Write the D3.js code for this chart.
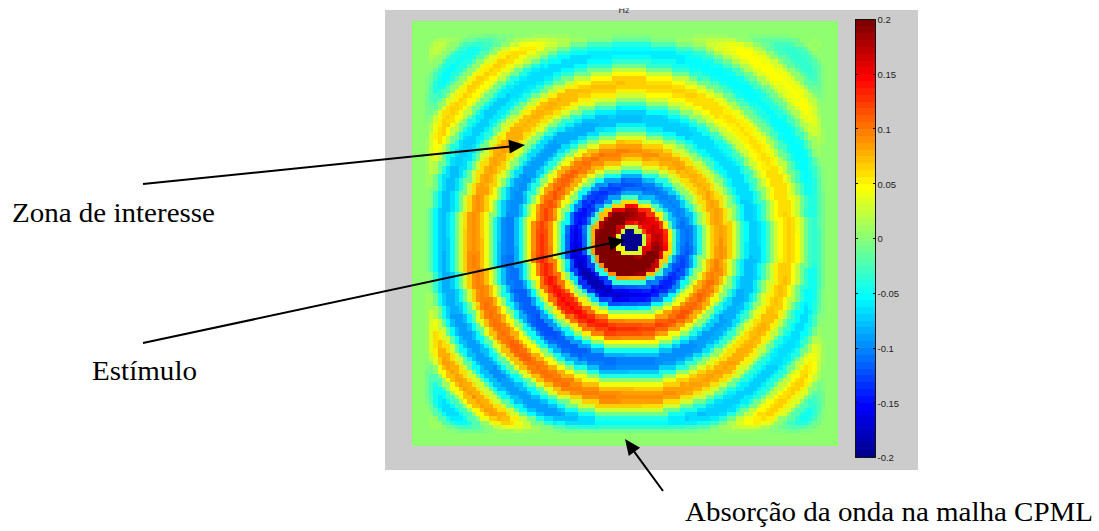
<!DOCTYPE html>
<html>
<head>
<meta charset="utf-8">
<script src="https://cdn.jsdelivr.net/npm/d3@7"></script>
<style>
  body { margin: 0; background: #fff; }
  svg { display: block; }
</style>
</head>
<body>
<svg id="chart"></svg>
<script>
// ---- data ----
const nCells = 100;                  // grid is 100 x 100 cells
const sourceCell = [51.4, 51.8];     // centre of the rings, in cell units

// field value against distance from the source (index = radius in cells), mean direction
const radialProfile = [
  -0.3, -0.3, -0.28, 0.03, 0.17, 0.21, 0.22, 0.21, 0.17, 0.07,
  -0.03, -0.1, -0.13, -0.14, -0.13, -0.1, -0.05, 0.0, 0.04, 0.08,
  0.1, 0.11, 0.1, 0.08, 0.04, 0.0, -0.04, -0.07, -0.09, -0.09,
  -0.085, -0.065, -0.035, 0.0, 0.035, 0.06, 0.075, 0.08, 0.075, 0.055,
  0.025, -0.01, -0.04, -0.06, -0.07, -0.07, -0.06, -0.04, -0.01, 0.02,
  0.045, 0.06, 0.065, 0.055, 0.035, 0.005, -0.02, -0.04, -0.05, -0.05,
  -0.04, -0.02, 0.0, 0.015, 0.03, 0.035, 0.035, 0.03, 0.02, 0.01,
  0.0, 0.0, 0.0, 0.0, 0.0
];

// amplitude by direction from the source: E, SE, S, SW, W, NW, N, NE
const directionGain = [0.8, 1.0, 1.15, 1.35, 1.15, 1.0, 0.85, 0.72];

// CPML absorption: factor by distance (cells) from the outer edge
const edgeDamping = [0, 0, 0, 0.15, 0.45, 0.75, 0.9];

const colorbarTicks = [0.2, 0.15, 0.1, 0.05, 0, -0.05, -0.1, -0.15, -0.2];
const colorLimits = [-0.2, 0.2];

// ---- MATLAB jet(64) ----
function jet(m) {
  const n = Math.ceil(m / 4);
  const u = [];
  for (let j = 1; j <= n; j++) u.push(j / n);
  for (let j = 1; j < n; j++) u.push(1);
  for (let j = n; j >= 1; j--) u.push(j / n);
  const off = Math.ceil(n / 2) - (m % 4 === 1 ? 1 : 0);
  const c = d3.range(m).map(() => [0, 0, 0]);
  u.forEach((val, j) => {
    const g = off + j, r = g + n, b = g - n;
    if (g < m) c[g][1] = val;
    if (r < m) c[r][0] = val;
    if (b >= 0) c[b][2] = val;
  });
  return c.map(d => d3.rgb(d[0] * 255, d[1] * 255, d[2] * 255).formatHex());
}
const jetColors = jet(64);
const color = d3.scaleQuantize().domain(colorLimits).range(jetColors);

// ---- build cells ----
function gainAt(angle) {
  let k = angle / (Math.PI / 4);
  if (k < 0) k += 8;
  const k0 = Math.floor(k) % 8, k1 = (k0 + 1) % 8, t = k - Math.floor(k);
  return directionGain[k0] * (1 - t) + directionGain[k1] * t;
}
function dampAt(i) {
  const d = Math.min(i, nCells - 1 - i);
  return d < edgeDamping.length ? edgeDamping[d] : 1;
}
const cells = [];
for (let j = 0; j < nCells; j++) {
  for (let i = 0; i < nCells; i++) {
    const dx = i + 0.5 - sourceCell[0], dy = j + 0.5 - sourceCell[1];
    const r = Math.min(Math.round(Math.hypot(dx, dy)), radialProfile.length - 1);
    const v = radialProfile[r] * gainAt(Math.atan2(dy, dx)) * dampAt(i) * dampAt(j);
    cells.push({i, j, v});
  }
}

// ---- drawing ----
const width = 1099, height = 531;
const svg = d3.select('#chart').attr('width', width).attr('height', height);

// figure panel
svg.append('rect')
  .attr('x', 385).attr('y', 10).attr('width', 533).attr('height', 460)
  .attr('fill', '#cccccc');

// title (cut off at the top of the figure)
svg.append('defs').append('clipPath').attr('id', 'titleClip')
  .append('rect').attr('x', 600).attr('y', 8.5).attr('width', 50).attr('height', 10);
svg.append('text')
  .attr('x', 624).attr('y', 12.5)
  .attr('text-anchor', 'middle')
  .attr('clip-path', 'url(#titleClip)')
  .style('font-family', 'Liberation Sans, Arial, sans-serif')
  .style('font-size', '9px')
  .style('fill', '#222')
  .text('Hz');

const xScale = d3.scaleLinear().domain([0, nCells]).range([412, 838]);
const yScale = d3.scaleLinear().domain([0, nCells]).range([21, 446]);

svg.append('g')
  .attr('shape-rendering', 'crispEdges')
  .selectAll('rect')
  .data(cells)
  .join('rect')
    .attr('x', d => xScale(d.i))
    .attr('y', d => yScale(d.j))
    .attr('width', d => xScale(d.i + 1) - xScale(d.i) + 0.4)
    .attr('height', d => yScale(d.j + 1) - yScale(d.j) + 0.4)
    .attr('fill', d => color(d.v));

// colorbar
const cbX = 855, cbW = 21;
const cbScale = d3.scaleLinear().domain(colorLimits).range([457, 19]);
const step = (colorLimits[1] - colorLimits[0]) / jetColors.length;
const cb = svg.append('g');
cb.append('g')
  .attr('shape-rendering', 'crispEdges')
  .selectAll('rect')
  .data(jetColors)
  .join('rect')
    .attr('x', cbX)
    .attr('y', (d, k) => cbScale(colorLimits[0] + (k + 1) * step))
    .attr('width', cbW)
    .attr('height', (d, k) => cbScale(colorLimits[0] + k * step) - cbScale(colorLimits[0] + (k + 1) * step) + 0.5)
    .attr('fill', d => d);
cb.append('rect')
  .attr('x', cbX + 0.5).attr('y', cbScale(0.2) + 0.5)
  .attr('width', cbW - 1).attr('height', cbScale(-0.2) - cbScale(0.2) - 1)
  .attr('fill', 'none').attr('stroke', '#111').attr('stroke-width', 1);
cb.selectAll('line.tl')
  .data(colorbarTicks)
  .join('line')
    .attr('x1', cbX).attr('x2', cbX + 3)
    .attr('y1', d => Math.round(cbScale(d)) + 0.5).attr('y2', d => Math.round(cbScale(d)) + 0.5)
    .attr('stroke', '#111');
cb.selectAll('line.tr')
  .data(colorbarTicks)
  .join('line')
    .attr('x1', cbX + cbW - 3).attr('x2', cbX + cbW)
    .attr('y1', d => Math.round(cbScale(d)) + 0.5).attr('y2', d => Math.round(cbScale(d)) + 0.5)
    .attr('stroke', '#111');

const cbAxis = d3.axisRight(cbScale)
  .tickValues(colorbarTicks)
  .tickSize(0)
  .tickPadding(1.5)
  .tickFormat(d => String(d));
cb.append('g')
  .attr('transform', `translate(${cbX + cbW},0)`)
  .call(cbAxis)
  .call(g => g.select('.domain').remove())
  .call(g => g.selectAll('text')
    .attr('dy', '0.4em')
    .style('font-family', 'Liberation Sans, Arial, sans-serif')
    .style('font-size', '9.5px')
    .style('fill', '#222'));

// annotations
function arrow(x1, y1, x2, y2) {
  const a = Math.atan2(y2 - y1, x2 - x1);
  const len = 16, half = 7;
  const bx = x2 - len * Math.cos(a), by = y2 - len * Math.sin(a);
  svg.append('line')
    .attr('x1', x1).attr('y1', y1)
    .attr('x2', bx + 2 * Math.cos(a)).attr('y2', by + 2 * Math.sin(a))
    .attr('stroke', '#000').attr('stroke-width', 2);
  const px = -Math.sin(a) * half, py = Math.cos(a) * half;
  svg.append('path')
    .attr('d', `M${x2},${y2}L${bx + px},${by + py}L${bx - px},${by - py}Z`)
    .attr('fill', '#000');
}
arrow(143, 184, 525, 145);
arrow(143, 343, 625, 240);
arrow(663, 491, 625, 439);

const labelStyle = s => s
  .style('font-family', 'Liberation Serif, Times New Roman, serif')
  .style('font-size', '28px')
  .style('fill', '#000');
svg.append('text').attr('x', 12).attr('y', 222)
  .attr('textLength', 203).attr('lengthAdjust', 'spacingAndGlyphs')
  .call(labelStyle).text('Zona de interesse');
svg.append('text').attr('x', 92).attr('y', 380)
  .attr('textLength', 105).attr('lengthAdjust', 'spacingAndGlyphs')
  .call(labelStyle).text('Estímulo');
svg.append('text').attr('x', 685).attr('y', 521)
  .attr('textLength', 408).attr('lengthAdjust', 'spacingAndGlyphs')
  .call(labelStyle).text('Absorção da onda na malha CPML');
</script>
</body>
</html>
